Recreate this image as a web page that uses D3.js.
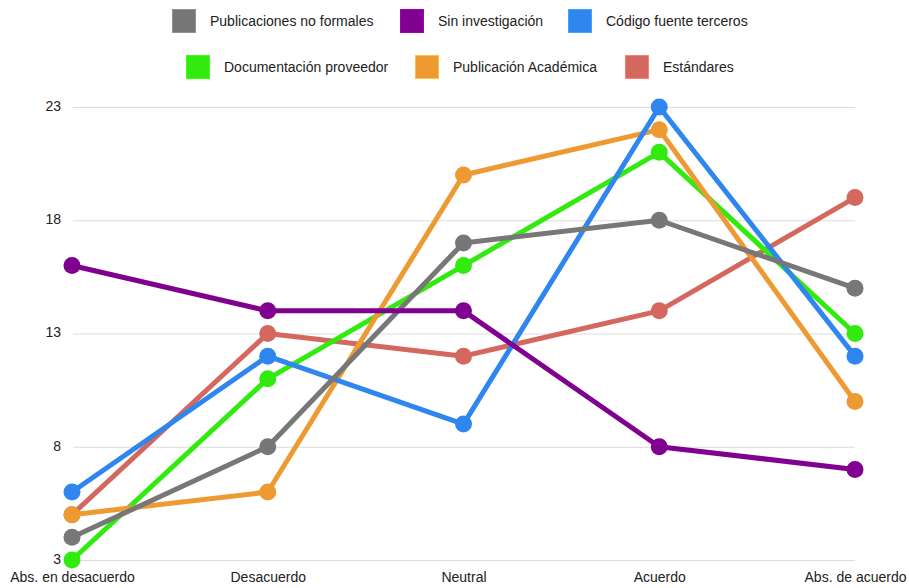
<!DOCTYPE html>
<html>
<head>
<meta charset="utf-8">
<script src="https://cdn.jsdelivr.net/npm/d3@7"></script>
<style>
  html, body { margin: 0; padding: 0; background: #fff; }
  svg { display: block; font-family: "Liberation Sans", Arial, Helvetica, sans-serif; }
</style>
</head>
<body>
<svg id="chart" width="909" height="588"></svg>
<script>
// Response categories along the x axis
const categories = ["Abs. en desacuerdo", "Desacuerdo", "Neutral", "Acuerdo", "Abs. de acuerdo"];

// Series names (legend order)
const seriesNames = [
  "Publicaciones no formales",
  "Sin investigación",
  "Código fuente terceros",
  "Documentación proveedor",
  "Publicación Académica",
  "Estándares"
];

// Counts per category, one array per series
const publicacionesNoFormales = [4, 8, 17, 18, 15];
const sinInvestigacion        = [16, 14, 14, 8, 7];
const codigoFuenteTerceros    = [6, 12, 9, 23, 12];
const documentacionProveedor  = [3, 11, 16, 21, 13];
const publicacionAcademica    = [5, 6, 20, 22, 10];
const estandares              = [5, 13, 12, 14, 19];

const yTicks = [3, 8, 13, 18, 23];

const colors = ["#777777", "#80008f", "#2f86ee", "#31ea0e", "#ee9a33", "#d4685f"];

const series = [
  publicacionesNoFormales, sinInvestigacion, codigoFuenteTerceros,
  documentacionProveedor, publicacionAcademica, estandares
].map((values, i) => ({ name: seriesNames[i], values, color: colors[i] }));

const svg = d3.select("#chart");

const x = d3.scalePoint().domain(categories).range([72, 855]);
const y = d3.scaleLinear().domain([3, 23]).range([560, 107]);

// Horizontal grid lines
svg.append("g")
  .selectAll("line")
  .data(yTicks)
  .join("line")
  .attr("x1", 73).attr("x2", 855)
  .attr("y1", d => y(d) + 0.5).attr("y2", d => y(d) + 0.5)
  .attr("stroke", "#dcdcdc")
  .attr("stroke-width", 1);

// Y axis labels
const yAxis = svg.append("g")
  .attr("transform", "translate(61,-1)")
  .call(d3.axisLeft(y).tickValues(yTicks).tickSize(0).tickPadding(0));
yAxis.select(".domain").remove();
yAxis.selectAll("text")
  .attr("font-size", 14)
  .attr("font-family", "'Liberation Sans', Arial, sans-serif")
  .attr("fill", "#222");

// X axis labels
const xAxis = svg.append("g")
  .attr("transform", "translate(0,572)")
  .call(d3.axisBottom(x).tickSize(0).tickPadding(0));
xAxis.select(".domain").remove();
xAxis.selectAll("text")
  .attr("font-size", 14)
  .attr("font-family", "'Liberation Sans', Arial, sans-serif")
  .attr("fill", "#222");

// Lines and markers, drawn bottom to top
const drawOrder = [5, 3, 4, 2, 0, 1];
const line = d3.line()
  .x((d, i) => x(categories[i]))
  .y(d => y(d));

const plot = svg.append("g");
drawOrder.forEach(idx => {
  const s = series[idx];
  const g = plot.append("g");
  g.append("path")
    .datum(s.values)
    .attr("d", line)
    .attr("fill", "none")
    .attr("stroke", s.color)
    .attr("stroke-width", 5)
    .attr("stroke-linejoin", "round");
  g.selectAll("circle")
    .data(s.values)
    .join("circle")
    .attr("cx", (d, i) => x(categories[i]))
    .attr("cy", d => y(d))
    .attr("r", 8.5)
    .attr("fill", s.color);
});

// Legend in two rows of three
const legendPos = [
  { x: 172, y: 9 }, { x: 400, y: 9 }, { x: 568, y: 9 },
  { x: 186, y: 55 }, { x: 415, y: 55 }, { x: 625, y: 55 }
];
const legend = svg.append("g")
  .selectAll("g")
  .data(series)
  .join("g")
  .attr("transform", (d, i) => `translate(${legendPos[i].x},${legendPos[i].y})`);

legend.append("rect")
  .attr("x", 0.5).attr("y", 0.5)
  .attr("width", 23).attr("height", 23)
  .attr("fill", d => d.color)
  .attr("stroke", d => d3.color(d.color).brighter(0.6))
  .attr("stroke-width", 1);

legend.append("text")
  .attr("x", 38)
  .attr("y", 12)
  .attr("dy", "0.35em")
  .attr("font-size", 14)
  .attr("fill", "#222")
  .text(d => d.name);
</script>
</body>
</html>
